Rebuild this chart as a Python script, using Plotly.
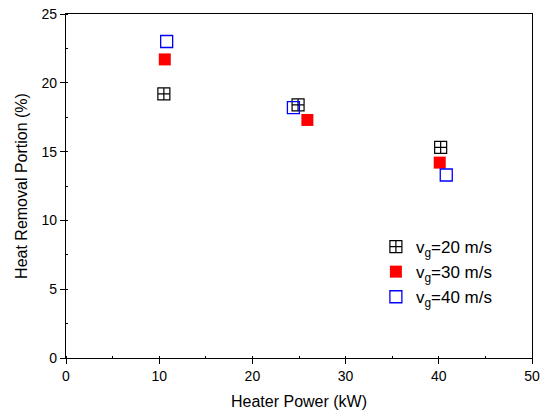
import plotly.graph_objects as go

# Heater power (kW) and heat removal portion (%) for each gas velocity
power_20 = [10.5, 24.9, 40.2]
removal_20 = [19.2, 18.4, 15.3]

power_30 = [10.6, 25.9, 40.1]
removal_30 = [21.7, 17.3, 14.2]

power_40 = [10.8, 24.4, 40.8]
removal_40 = [23.0, 18.2, 13.3]

labels = ["v<sub>g</sub>=20 m/s", "v<sub>g</sub>=30 m/s", "v<sub>g</sub>=40 m/s"]
x_ticks = [0, 10, 20, 30, 40, 50]
y_ticks = [0, 5, 10, 15, 20, 25]

font_family = "Liberation Sans, Arial, sans-serif"

fig = go.Figure()
fig.add_trace(go.Scatter(
    x=power_20, y=removal_20, mode="markers", name=labels[0],
    marker=dict(symbol="square-cross-open", size=12, color="black",
                line=dict(width=1.2, color="black")),
))
fig.add_trace(go.Scatter(
    x=power_30, y=removal_30, mode="markers", name=labels[1],
    marker=dict(symbol="square", size=12, color="#ff0000",
                line=dict(width=0)),
))
fig.add_trace(go.Scatter(
    x=power_40, y=removal_40, mode="markers", name=labels[2],
    marker=dict(symbol="square-open", size=12, color="#0000ff",
                line=dict(width=1.3, color="#0000ff")),
))

axis_common = dict(
    showline=True, linecolor="black", linewidth=1.3, mirror=True,
    showgrid=False, zeroline=False, automargin=False,
    ticklabeloverflow="allow",
    ticks="outside", ticklen=5, tickwidth=1, tickcolor="black",
    tickfont=dict(family=font_family, size=14, color="black"),
    minor=dict(ticks="inside", ticklen=2, tickcolor="black"),
)

fig.update_layout(
    width=546, height=417,
    margin=dict(l=66, r=14, t=14, b=59),
    paper_bgcolor="white", plot_bgcolor="white",
    font=dict(family=font_family, color="black"),
    showlegend=True,
    legend=dict(
        x=0.665, y=0.375, xanchor="left", yanchor="top",
        bgcolor="rgba(0,0,0,0)", borderwidth=0,
        font=dict(family=font_family, size=17, color="black"),
        itemwidth=30, tracegroupgap=0,
    ),
    xaxis=dict(
        range=[0, 50], tickvals=x_ticks,
        title=dict(text="Heater Power (kW)", font=dict(size=16, family=font_family), standoff=12),
        **axis_common,
    ),
    yaxis=dict(
        range=[0, 25], tickvals=y_ticks,
        title=dict(text="Heat Removal Portion (%)", font=dict(size=16, family=font_family), standoff=9),
        **axis_common,
    ),
)
fig.update_xaxes(minor=dict(dtick=5))
fig.update_yaxes(minor=dict(dtick=2.5))

fig.write_html("out.html")
